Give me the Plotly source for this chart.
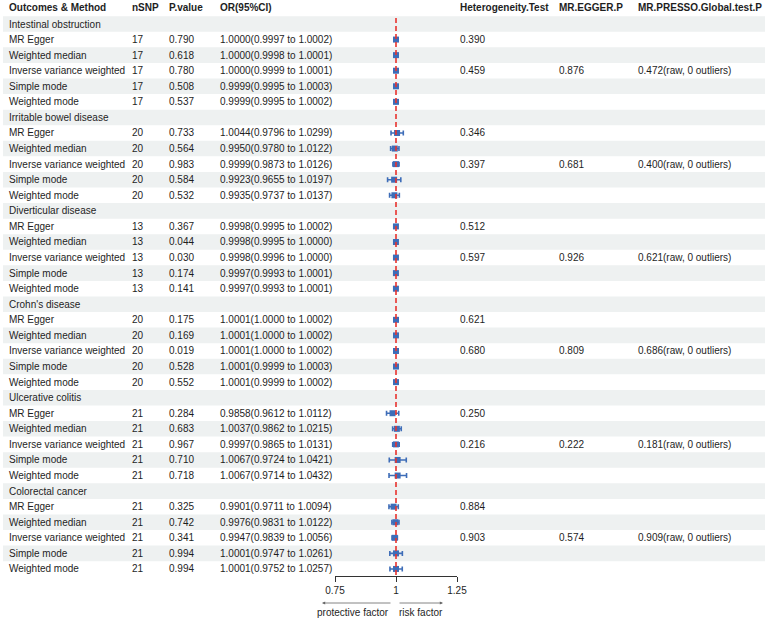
import plotly.graph_objects as go

W, H = 767, 620

outcomes = ["Intestinal obstruction", "Irritable bowel disease", "Diverticular disease",
            "Crohn's disease", "Ulcerative colitis", "Colorectal cancer"]
methods = ["MR Egger", "Weighted median", "Inverse variance weighted", "Simple mode", "Weighted mode"]
nsnp = [17, 20, 13, 20, 21, 21]
pvals = [
    ["0.790", "0.618", "0.780", "0.508", "0.537"],
    ["0.733", "0.564", "0.983", "0.584", "0.532"],
    ["0.367", "0.044", "0.030", "0.174", "0.141"],
    ["0.175", "0.169", "0.019", "0.528", "0.552"],
    ["0.284", "0.683", "0.967", "0.710", "0.718"],
    ["0.325", "0.742", "0.341", "0.994", "0.994"],
]
or_est = [
    [1.0000, 1.0000, 1.0000, 0.9999, 0.9999],
    [1.0044, 0.9950, 0.9999, 0.9923, 0.9935],
    [0.9998, 0.9998, 0.9998, 0.9997, 0.9997],
    [1.0001, 1.0001, 1.0001, 1.0001, 1.0001],
    [0.9858, 1.0037, 0.9997, 1.0067, 1.0067],
    [0.9901, 0.9976, 0.9947, 1.0001, 1.0001],
]
or_lo = [
    [0.9997, 0.9998, 0.9999, 0.9995, 0.9995],
    [0.9796, 0.9780, 0.9873, 0.9655, 0.9737],
    [0.9995, 0.9995, 0.9996, 0.9993, 0.9993],
    [1.0000, 1.0000, 1.0000, 0.9999, 0.9999],
    [0.9612, 0.9862, 0.9865, 0.9724, 0.9714],
    [0.9711, 0.9831, 0.9839, 0.9747, 0.9752],
]
or_hi = [
    [1.0002, 1.0001, 1.0001, 1.0003, 1.0002],
    [1.0299, 1.0122, 1.0126, 1.0197, 1.0137],
    [1.0002, 1.0000, 1.0000, 1.0001, 1.0001],
    [1.0002, 1.0002, 1.0002, 1.0003, 1.0002],
    [1.0112, 1.0215, 1.0131, 1.0421, 1.0432],
    [1.0094, 1.0122, 1.0056, 1.0261, 1.0257],
]
het_egger = ["0.390", "0.346", "0.512", "0.621", "0.250", "0.884"]
het_ivw = ["0.459", "0.397", "0.597", "0.680", "0.216", "0.903"]
egger_p = ["0.876", "0.681", "0.926", "0.809", "0.222", "0.574"]
presso_p = ["0.472", "0.400", "0.621", "0.686", "0.181", "0.909"]
headers = ["Outcomes & Method", "nSNP", "P.value", "OR(95%CI)",
           "Heterogeneity.Test", "MR.EGGER.P", "MR.PRESSO.Global.test.P"]
xticks = [0.75, 1, 1.25]

# ---- layout geometry (pixels) ----
row0_px = 8.43
row_h = 15.57
axis_px = 576
col_px = [8, 131, 168, 219, 459, 558, 637]
FONT = "Liberation Sans, Arial, sans-serif"
TXT = "#1e1e1e"
BLUE = "#3E6DB8"

def px_to_row(p):
    return (p - row0_px) / row_h

rows = []
r = 1
for g, name in enumerate(outcomes):
    rows.append((r, [name, "", "", "", "", "", ""], None, None, None))
    r += 1
    for m, meth in enumerate(methods):
        cells = [meth, str(nsnp[g]), pvals[g][m],
                 f"{or_est[g][m]:.4f}({or_lo[g][m]:.4f} to {or_hi[g][m]:.4f})", "", "", ""]
        if m == 0:
            cells[4] = het_egger[g]
        if m == 2:
            cells[4] = het_ivw[g]
            cells[5] = egger_p[g]
            cells[6] = presso_p[g] + "(raw, 0 outliers)"
        rows.append((r, cells, or_est[g][m], or_lo[g][m], or_hi[g][m]))
        r += 1

annotations = []
shapes = []

for c, h in enumerate(headers):
    annotations.append(dict(x=(col_px[c] - 1) / W, y=px_to_row(7.0), xref="paper", yref="y",
                            text=f"<b>{h}</b>", showarrow=False, xanchor="left", yanchor="middle",
                            font=dict(family=FONT, size=10, color=TXT)))

for (ri, cells, est, lo, hi) in rows:
    if ri % 2 == 1:
        shapes.append(dict(type="rect", xref="paper", yref="y", x0=3 / W, x1=765 / W,
                           y0=ri - 0.5, y1=ri + 0.5, fillcolor="#EEF1F1", line_width=0, layer="below"))
    for c, t in enumerate(cells):
        if t:
            annotations.append(dict(x=(col_px[c] - 1) / W, y=ri, xref="paper", yref="y",
                                    text=t, showarrow=False, xanchor="left", yanchor="middle",
                                    font=dict(family=FONT, size=10, color=TXT)))

pts = [(ri, est, lo, hi) for (ri, cells, est, lo, hi) in rows if est is not None]
fig = go.Figure()
fig.add_trace(go.Scatter(
    x=[p[1] for p in pts], y=[p[0] for p in pts], mode="markers",
    marker=dict(symbol="square", size=6, color=BLUE),
    error_x=dict(type="data", symmetric=False,
                 array=[p[3] - p[1] for p in pts], arrayminus=[p[1] - p[2] for p in pts],
                 color=BLUE, thickness=1.6, width=2.5),
    hoverinfo="skip", showlegend=False))

shapes.append(dict(type="line", xref="x", yref="y", x0=1, x1=1, y0=px_to_row(18), y1=px_to_row(axis_px),
                   line=dict(color="#E8322E", width=1.6, dash="5px,3px"), layer="above"))

ay_px = 603
annotations.append(dict(x=322 / W, y=1 - ay_px / H, xref="paper", yref="paper", ax=70, ay=0,
                        showarrow=True, arrowhead=2, arrowsize=0.8, arrowwidth=0.8,
                        arrowcolor="#666", text=""))
annotations.append(dict(x=443 / W, y=1 - ay_px / H, xref="paper", yref="paper", ax=-45, ay=0,
                        showarrow=True, arrowhead=2, arrowsize=0.8, arrowwidth=0.8,
                        arrowcolor="#666", text=""))
annotations.append(dict(x=391 / W, y=1 - 612 / H, xref="paper", yref="paper", text="protective factor",
                        showarrow=False, xanchor="right", yanchor="middle",
                        font=dict(family=FONT, size=10, color=TXT)))
annotations.append(dict(x=397 / W, y=1 - 612 / H, xref="paper", yref="paper", text="risk factor",
                        showarrow=False, xanchor="left", yanchor="middle",
                        font=dict(family=FONT, size=10, color=TXT)))

fig.update_layout(
    width=W, height=H, margin=dict(l=0, r=0, t=0, b=0, pad=0, autoexpand=False),
    paper_bgcolor="white", plot_bgcolor="rgba(0,0,0,0)",
    xaxis=dict(domain=[335 / W, 457 / W], range=[0.75, 1.25], tickvals=xticks,
               ticktext=["0.75", "1", "1.25"], showline=True, linecolor="#333", linewidth=0.8,
               ticks="outside", ticklen=5, tickcolor="#333", tickwidth=0.8, showgrid=False,
               zeroline=False, tickfont=dict(family=FONT, size=10, color=TXT), fixedrange=True,
               automargin=False),
    yaxis=dict(domain=[(H - axis_px) / H, 1], range=[px_to_row(axis_px), px_to_row(0)],
               visible=False, fixedrange=True, automargin=False),
    shapes=shapes, annotations=annotations,
)

post = ("document.documentElement.style.margin='0';document.body.style.margin='0';"
        "document.body.style.padding='0';document.documentElement.style.overflow='hidden';"
        "document.body.style.overflow='hidden';")
fig.write_html("out.html", post_script=post, config={"displayModeBar": False})
